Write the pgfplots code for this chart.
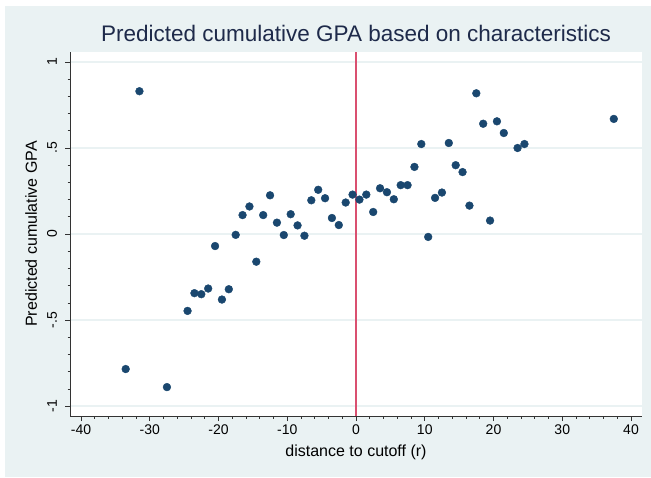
\documentclass[border=0pt]{standalone}
\usepackage{fontspec}
\setmainfont{Liberation Sans}
\usepackage{pgfplots}
\pgfplotsset{compat=1.18}
\definecolor{bgc}{RGB}{234,242,243}
\definecolor{gridc}{RGB}{234,242,243}
\definecolor{navy}{RGB}{26,71,111}
\definecolor{redl}{RGB}{218,80,112}
\definecolor{titlec}{RGB}{30,42,74}
\begin{document}
\begin{tikzpicture}[x=1pt,y=1pt]
\fill[white] (0,0) rectangle (651,477);
\fill[bgc] (5,0) rectangle (651,471);
\begin{axis}[
  at={(70pt,61pt)}, anchor=south west,
  scale only axis, width=572pt, height=364pt,
  xmin=-41.6, xmax=41.6, ymin=-1.058, ymax=1.058,
  axis background/.style={fill=white},
  axis x line*=bottom, axis y line*=left,
  axis line style={black!80, line width=0.6pt},
  tick align=outside,
  major tick length=5pt, minor tick length=2.5pt,
  tick style={black!80, line width=0.6pt},
  xtick={-40,-30,-20,-10,0,10,20,30,40},
  xticklabels={-40,-30,-20,-10,0,10,20,30,40},
  ytick={-1,-0.5,0,0.5,1},
  yticklabels={-1,-.5,0,.5,1},
  minor x tick num=4, minor y tick num=4,
  ymajorgrids, major grid style={draw=gridc, line width=1.3pt},
  ticklabel style={font=\fontsize{14}{16}\selectfont},
  yticklabel style={rotate=90, anchor=base},
  yticklabel shift=8pt,
  title={Predicted cumulative GPA based on characteristics},
  title style={font=\fontsize{22.5}{25}\selectfont, text=titlec, at={(axis description cs:0.5,1.011)}, anchor=base, inner sep=0pt},
  xlabel={distance to cutoff (r)},
  xlabel style={font=\fontsize{16}{18}\selectfont, at={(axis description cs:0.5,-0.1126)}, anchor=base, inner sep=0pt},
  ylabel={Predicted cumulative GPA},
  ylabel style={font=\fontsize{16}{18}\selectfont, at={(axis description cs:-0.0577,0.5)}, anchor=base, inner sep=0pt},
  clip=false,
]
\addplot[redl, line width=1.2pt] coordinates {(0,-1.058) (0,1.058)};
\addplot[only marks, mark=*, mark size=3.9pt, mark options={fill=navy, draw=navy}] table {
x y
-33.5 -0.785
-31.5 0.83
-27.5 -0.89
-24.5 -0.447
-23.5 -0.344
-22.5 -0.35
-21.5 -0.317
-20.5 -0.07
-19.5 -0.381
-18.5 -0.321
-17.5 -0.005
-16.5 0.11
-15.5 0.16
-14.5 -0.161
-13.5 0.11
-12.5 0.225
-11.5 0.066
-10.5 -0.006
-9.5 0.115
-8.5 0.05
-7.5 -0.01
-6.5 0.196
-5.5 0.257
-4.5 0.208
-3.5 0.093
-2.5 0.052
-1.5 0.183
-0.5 0.229
0.5 0.2
1.5 0.229
2.5 0.128
3.5 0.266
4.5 0.243
5.5 0.202
6.5 0.284
7.5 0.284
8.5 0.39
9.5 0.523
10.5 -0.017
11.5 0.21
12.5 0.241
13.5 0.529
14.5 0.4
15.5 0.36
16.5 0.165
17.5 0.818
18.5 0.641
19.5 0.078
20.5 0.655
21.5 0.587
23.5 0.5
24.5 0.523
37.5 0.669
};
\end{axis}
\end{tikzpicture}
\end{document}
